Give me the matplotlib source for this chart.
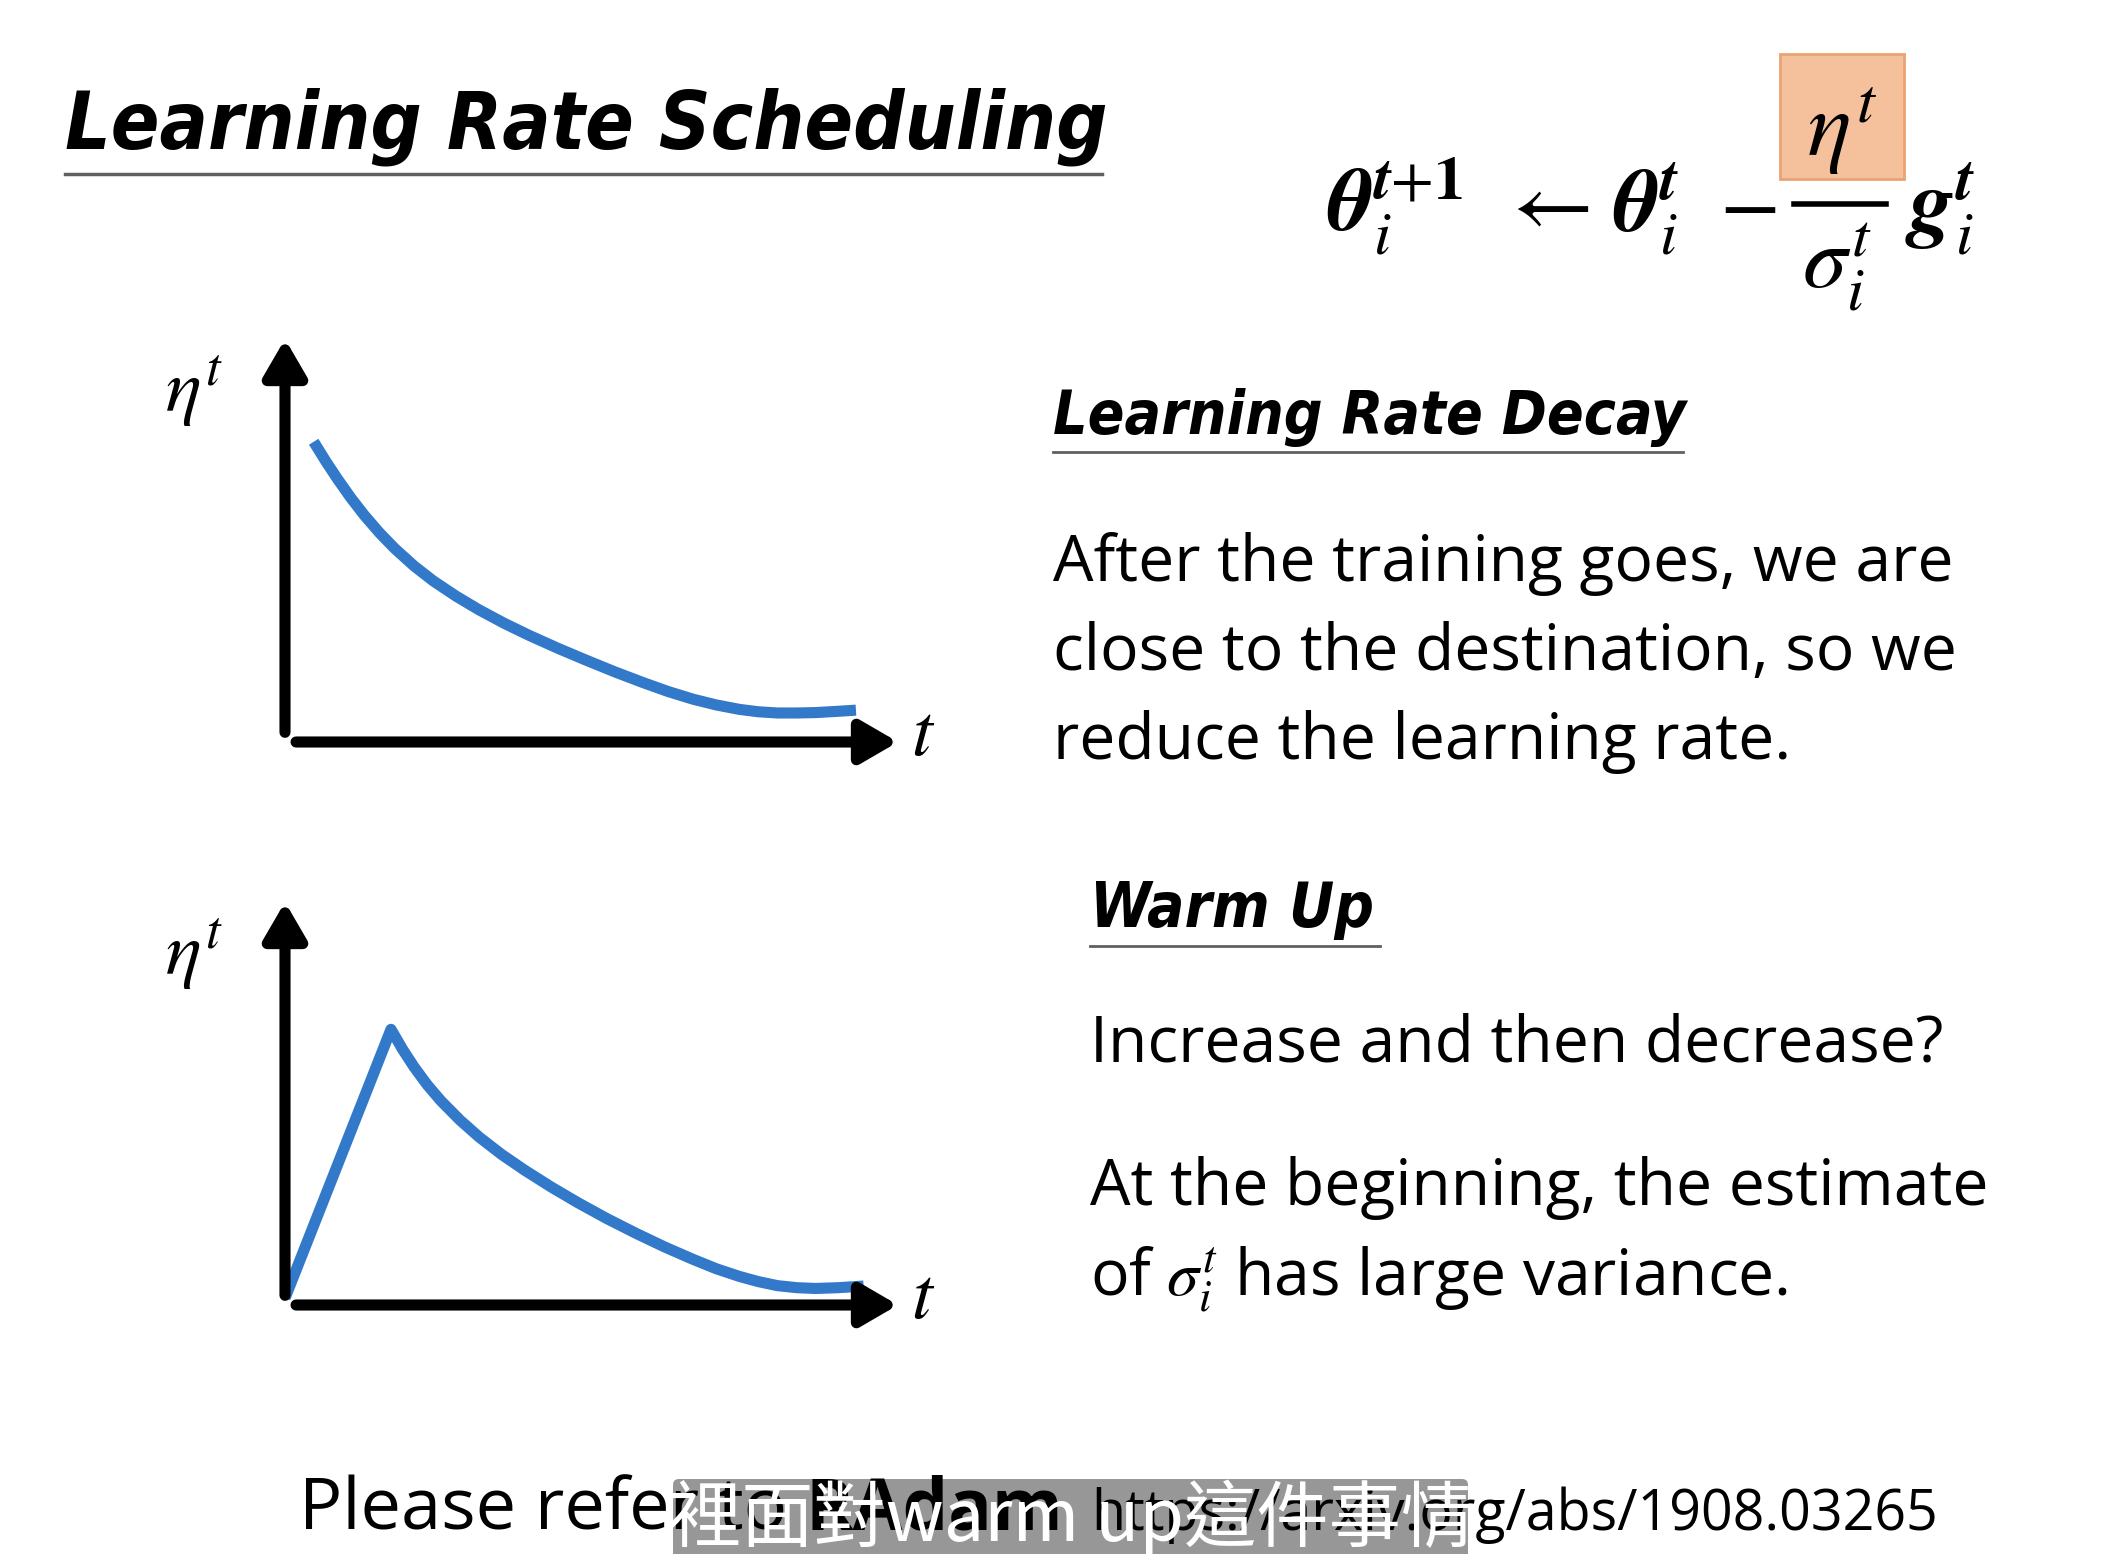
import numpy as np
import matplotlib.pyplot as plt
from matplotlib.patches import Rectangle, FancyBboxPatch
from matplotlib import font_manager

plt.rcParams['mathtext.fontset'] = 'stix'

W, H = 2128, 1554
blue = '#3379c9'
body_font = 'Open Sans'

# curve values: t in [0, 10], eta in [0, 1]
decay_t = [0.468, 0.668, 0.855, 1.073, 1.292, 1.542, 1.791, 2.104, 2.416, 2.790, 3.165, 3.571,
           3.977, 4.445, 4.913, 5.381, 5.849, 6.255, 6.661, 7.035, 7.410, 7.722, 8.034, 8.346,
           8.659, 9.002, 9.314]
decay_eta = [0.745, 0.696, 0.653, 0.606, 0.563, 0.519, 0.480, 0.437, 0.400, 0.362, 0.328, 0.295,
             0.265, 0.233, 0.203, 0.174, 0.147, 0.125, 0.106, 0.092, 0.081, 0.075, 0.072, 0.072,
             0.073, 0.076, 0.079]
warm_t = [0.0, 1.729, 1.916, 2.104, 2.322, 2.541, 2.853, 3.165, 3.539, 3.914, 4.351, 4.788,
          5.256, 5.724, 6.193, 6.661, 7.035, 7.410, 7.722, 8.034, 8.346, 8.659, 9.033, 9.439]
warm_eta = [0.017, 0.684, 0.635, 0.591, 0.546, 0.507, 0.459, 0.417, 0.373, 0.334, 0.292, 0.253,
            0.214, 0.178, 0.144, 0.113, 0.090, 0.071, 0.058, 0.048, 0.043, 0.041, 0.043, 0.047]

decay_lines = ['After the training goes, we are',
               'close to the destination, so we',
               'reduce the learning rate.']
warm_lines = ['Increase and then decrease?',
              'At the beginning, the estimate',
              r'of $\sigma_i^t$ has large variance.']

# bold italic heading font: condensed DejaVu if the system has it
fp = font_manager.FontProperties(family='DejaVu Sans', weight='bold', style='italic', stretch='condensed')
condensed = 'Condensed' in font_manager.findfont(fp)
head_scale = 1.0 if condensed else 0.89
head = dict(fontweight='bold', fontstyle='italic', family='DejaVu Sans',
            fontstretch='condensed', va='baseline')

fig = plt.figure(figsize=(W / 100, H / 100), dpi=100)
bg = fig.add_axes([0, 0, 1, 1])
bg.set_xlim(0, W)
bg.set_ylim(H, 0)
bg.axis('off')

# title
bg.text(65, 149, 'Learning Rate Scheduling', fontsize=57.5 * head_scale, **head)
bg.plot([65, 1102], [174, 174], color='#606060', lw=2.5)

# update rule
fs = 64
bg.add_patch(Rectangle((1780, 54), 124, 125, facecolor='#f5c19d', edgecolor='#e9a373', lw=2))
bg.text(1327, 231, r'$\boldsymbol{\theta}_i^{\boldsymbol{t}{+}\mathbf{1}}$', fontsize=fs, va='baseline')
bg.text(1499, 231, r'$\leftarrow$', fontsize=fs, va='baseline')
bg.text(1613, 231, r'$\boldsymbol{\theta}_i^{\boldsymbol{t}}$', fontsize=fs, va='baseline')
bg.text(1719, 231, r'$-$', fontsize=fs, va='baseline')
bg.plot([1794, 1886], [204, 204], color='black', lw=4)
bg.text(1842, 156, r'$\eta^t$', fontsize=fs + 2, va='baseline', ha='center')
bg.text(1802, 288, r'$\sigma_i^t$', fontsize=fs, va='baseline')
bg.text(1905, 231, r'$\boldsymbol{g}_i^{\boldsymbol{t}}$', fontsize=fs, va='baseline')

# right column text
bg.text(1053, 434, 'Learning Rate Decay', fontsize=43.5 * head_scale, **head)
bg.plot([1053, 1683], [452, 452], color='#606060', lw=2)
for i, line in enumerate(decay_lines):
    bg.text(1053, 581 + 89 * i, line, fontsize=46.2, family=body_font, va='baseline')

bg.text(1090, 927, 'Warm Up', fontsize=44.5 * head_scale, **head)
bg.plot([1090, 1380], [946, 946], color='#606060', lw=2)
for y, line in zip([1061, 1205, 1296], warm_lines):
    bg.text(1090, y, line, fontsize=46.2, family=body_font, va='baseline')


def draw_plot(rect, t, eta, label_y):
    ax = fig.add_axes(rect)
    ax.set_xlim(0, 10)
    ax.set_ylim(0, 1)
    ax.axis('off')
    ax.plot(t, eta, color=blue, lw=8, clip_on=False, solid_capstyle='butt',
            solid_joinstyle='round')
    arrow = dict(arrowstyle='-|>,head_length=0.55,head_width=0.32', color='black',
                 lw=8, mutation_scale=40, shrinkA=0, shrinkB=0)
    ax.annotate('', xy=(1.0, 0.0), xytext=(0.018, 0.0), xycoords='axes fraction',
                arrowprops=arrow)
    ax.annotate('', xy=(0.0, 1.0), xytext=(0.0, 0.024), xycoords='axes fraction',
                arrowprops=arrow)
    bg.text(194, label_y, r'$\eta^t$', fontsize=54, ha='center', va='center')
    return ax


draw_plot([285 / W, 1 - 742 / H, 613 / W, 403 / H], decay_t, decay_eta, 392)
bg.text(923, 755, r'$t$', fontsize=54, ha='center', va='baseline')
draw_plot([285 / W, 1 - 1305 / H, 613 / W, 403 / H], warm_t, warm_eta, 955)
bg.text(923, 1318, r'$t$', fontsize=54, ha='center', va='baseline')

# reference line at the bottom
fig.canvas.draw()
r = fig.canvas.get_renderer()
x = 299
for part, weight in [('Please refer to ', 'normal'), ('RAdam', 'bold')]:
    tx = bg.text(x, 1530, part, fontsize=52, family=body_font, fontweight=weight, va='baseline')
    x += tx.get_window_extent(r).width
bg.text(1938, 1530, 'https://arxiv.org/abs/1908.03265', fontsize=40, family=body_font,
        ha='right', va='baseline')

# subtitle overlay
bg.add_patch(FancyBboxPatch((673, 1479), 795, 90, boxstyle='round,pad=0,rounding_size=6',
                            facecolor='#8f8f8f', alpha=0.93, lw=0))
bg.text(1071, 1518, '裡面對warm up這件事情', fontsize=52, color='white', ha='center', va='center',
        family=['Noto Sans CJK TC', 'DejaVu Sans'])

fig.savefig('out.png', dpi=100)
